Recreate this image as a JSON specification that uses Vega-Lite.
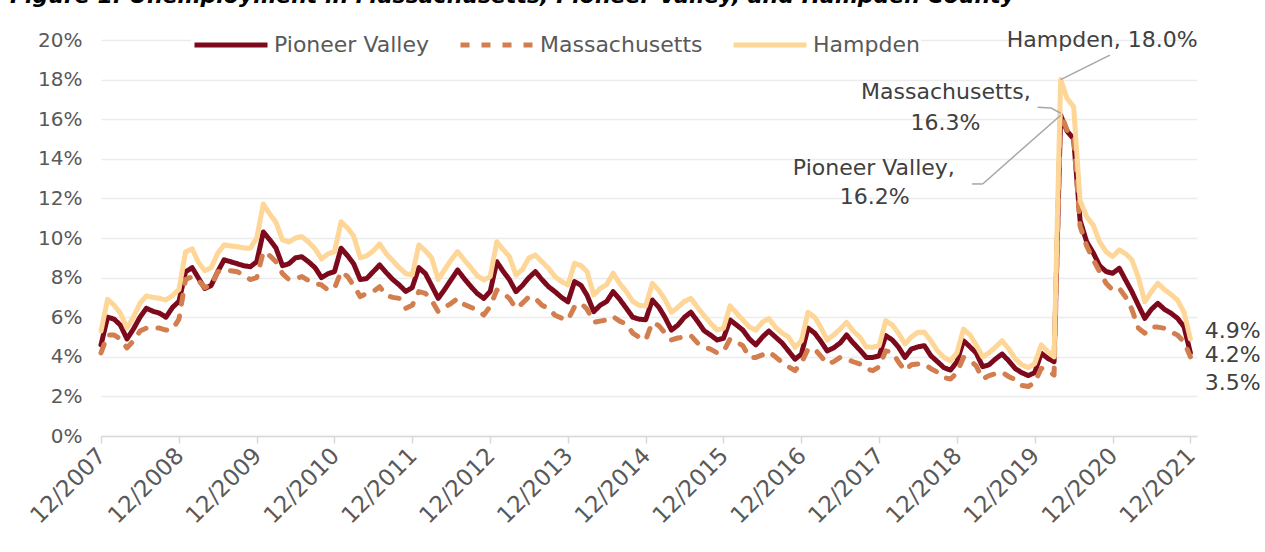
{
"$schema":"https://vega.github.io/schema/vega-lite/v6.json",
"width":1096,"height":396,
"autosize":{"type":"none"},
"padding":{"left":101,"top":40,"right":68,"bottom":116},
"background":"white",
"title":{"text":"Figure 1: Unemployment in Massachusetts, Pioneer Valley, and Hampden County","font":"DejaVu Sans","fontSize":22,"fontWeight":"bold","fontStyle":"italic","color":"#000000","anchor":"start","frame":"group","dx":-91,"baseline":"alphabetic","offset":-20},
"config":{"view":{"stroke":null},"font":"DejaVu Sans"},
"layer":[
{"data":{"values":[
{"d":"2007-12-01","Pioneer Valley":4.6,"Massachusetts":4.2,"Hampden":5.3},
{"d":"2008-01-01","Pioneer Valley":6.0,"Massachusetts":5.1,"Hampden":6.9},
{"d":"2008-02-01","Pioneer Valley":5.9,"Massachusetts":5.1,"Hampden":6.6},
{"d":"2008-03-01","Pioneer Valley":5.6,"Massachusetts":4.9,"Hampden":6.2},
{"d":"2008-04-01","Pioneer Valley":4.9,"Massachusetts":4.45,"Hampden":5.45},
{"d":"2008-05-01","Pioneer Valley":5.4,"Massachusetts":4.8,"Hampden":6.0},
{"d":"2008-06-01","Pioneer Valley":6.0,"Massachusetts":5.3,"Hampden":6.7},
{"d":"2008-07-01","Pioneer Valley":6.45,"Massachusetts":5.45,"Hampden":7.07},
{"d":"2008-08-01","Pioneer Valley":6.3,"Massachusetts":5.45,"Hampden":7.0},
{"d":"2008-09-01","Pioneer Valley":6.2,"Massachusetts":5.45,"Hampden":6.95},
{"d":"2008-10-01","Pioneer Valley":6.0,"Massachusetts":5.35,"Hampden":6.87},
{"d":"2008-11-01","Pioneer Valley":6.5,"Massachusetts":5.4,"Hampden":7.1},
{"d":"2008-12-01","Pioneer Valley":6.8,"Massachusetts":5.9,"Hampden":7.4},
{"d":"2009-01-01","Pioneer Valley":8.3,"Massachusetts":7.9,"Hampden":9.3},
{"d":"2009-02-01","Pioneer Valley":8.5,"Massachusetts":8.05,"Hampden":9.45},
{"d":"2009-03-01","Pioneer Valley":8.0,"Massachusetts":7.88,"Hampden":8.8},
{"d":"2009-04-01","Pioneer Valley":7.45,"Massachusetts":7.5,"Hampden":8.35},
{"d":"2009-05-01","Pioneer Valley":7.6,"Massachusetts":7.6,"Hampden":8.5},
{"d":"2009-06-01","Pioneer Valley":8.3,"Massachusetts":8.3,"Hampden":9.23},
{"d":"2009-07-01","Pioneer Valley":8.9,"Massachusetts":8.38,"Hampden":9.65},
{"d":"2009-08-01","Pioneer Valley":8.8,"Massachusetts":8.35,"Hampden":9.6},
{"d":"2009-09-01","Pioneer Valley":8.7,"Massachusetts":8.3,"Hampden":9.56},
{"d":"2009-10-01","Pioneer Valley":8.6,"Massachusetts":8.1,"Hampden":9.5},
{"d":"2009-11-01","Pioneer Valley":8.55,"Massachusetts":7.9,"Hampden":9.48},
{"d":"2009-12-01","Pioneer Valley":8.8,"Massachusetts":8.0,"Hampden":10.0},
{"d":"2010-01-01","Pioneer Valley":10.3,"Massachusetts":9.31,"Hampden":11.72},
{"d":"2010-02-01","Pioneer Valley":9.9,"Massachusetts":9.1,"Hampden":11.2},
{"d":"2010-03-01","Pioneer Valley":9.5,"Massachusetts":8.8,"Hampden":10.8},
{"d":"2010-04-01","Pioneer Valley":8.6,"Massachusetts":8.2,"Hampden":9.9},
{"d":"2010-05-01","Pioneer Valley":8.7,"Massachusetts":7.9,"Hampden":9.8},
{"d":"2010-06-01","Pioneer Valley":9.0,"Massachusetts":7.95,"Hampden":10.0},
{"d":"2010-07-01","Pioneer Valley":9.05,"Massachusetts":8.05,"Hampden":10.07},
{"d":"2010-08-01","Pioneer Valley":8.8,"Massachusetts":7.85,"Hampden":9.8},
{"d":"2010-09-01","Pioneer Valley":8.5,"Massachusetts":7.7,"Hampden":9.45},
{"d":"2010-10-01","Pioneer Valley":8.0,"Massachusetts":7.63,"Hampden":8.95},
{"d":"2010-11-01","Pioneer Valley":8.2,"Massachusetts":7.37,"Hampden":9.2},
{"d":"2010-12-01","Pioneer Valley":8.3,"Massachusetts":7.46,"Hampden":9.31},
{"d":"2011-01-01","Pioneer Valley":9.48,"Massachusetts":8.3,"Hampden":10.82},
{"d":"2011-02-01","Pioneer Valley":9.1,"Massachusetts":8.05,"Hampden":10.5},
{"d":"2011-03-01","Pioneer Valley":8.7,"Massachusetts":7.6,"Hampden":10.1},
{"d":"2011-04-01","Pioneer Valley":7.9,"Massachusetts":7.04,"Hampden":9.0},
{"d":"2011-05-01","Pioneer Valley":7.95,"Massachusetts":7.2,"Hampden":9.1},
{"d":"2011-06-01","Pioneer Valley":8.3,"Massachusetts":7.3,"Hampden":9.35},
{"d":"2011-07-01","Pioneer Valley":8.64,"Massachusetts":7.54,"Hampden":9.7},
{"d":"2011-08-01","Pioneer Valley":8.25,"Massachusetts":7.1,"Hampden":9.2},
{"d":"2011-09-01","Pioneer Valley":7.9,"Massachusetts":7.0,"Hampden":8.85},
{"d":"2011-10-01","Pioneer Valley":7.63,"Massachusetts":6.95,"Hampden":8.5},
{"d":"2011-11-01","Pioneer Valley":7.3,"Massachusetts":6.45,"Hampden":8.2},
{"d":"2011-12-01","Pioneer Valley":7.5,"Massachusetts":6.6,"Hampden":8.13},
{"d":"2012-01-01","Pioneer Valley":8.5,"Massachusetts":7.29,"Hampden":9.65},
{"d":"2012-02-01","Pioneer Valley":8.2,"Massachusetts":7.2,"Hampden":9.35},
{"d":"2012-03-01","Pioneer Valley":7.6,"Massachusetts":6.85,"Hampden":9.0},
{"d":"2012-04-01","Pioneer Valley":6.95,"Massachusetts":6.28,"Hampden":7.9},
{"d":"2012-05-01","Pioneer Valley":7.4,"Massachusetts":6.5,"Hampden":8.4},
{"d":"2012-06-01","Pioneer Valley":7.9,"Massachusetts":6.7,"Hampden":8.9},
{"d":"2012-07-01","Pioneer Valley":8.38,"Massachusetts":6.95,"Hampden":9.31},
{"d":"2012-08-01","Pioneer Valley":7.95,"Massachusetts":6.65,"Hampden":8.9},
{"d":"2012-09-01","Pioneer Valley":7.55,"Massachusetts":6.5,"Hampden":8.5},
{"d":"2012-10-01","Pioneer Valley":7.2,"Massachusetts":6.36,"Hampden":8.1},
{"d":"2012-11-01","Pioneer Valley":6.95,"Massachusetts":6.11,"Hampden":7.88},
{"d":"2012-12-01","Pioneer Valley":7.3,"Massachusetts":6.55,"Hampden":8.05},
{"d":"2013-01-01","Pioneer Valley":8.8,"Massachusetts":7.37,"Hampden":9.81},
{"d":"2013-02-01","Pioneer Valley":8.3,"Massachusetts":7.2,"Hampden":9.4},
{"d":"2013-03-01","Pioneer Valley":7.9,"Massachusetts":6.95,"Hampden":9.06},
{"d":"2013-04-01","Pioneer Valley":7.29,"Massachusetts":6.45,"Hampden":8.13},
{"d":"2013-05-01","Pioneer Valley":7.6,"Massachusetts":6.7,"Hampden":8.4},
{"d":"2013-06-01","Pioneer Valley":8.0,"Massachusetts":7.04,"Hampden":9.0},
{"d":"2013-07-01","Pioneer Valley":8.3,"Massachusetts":6.95,"Hampden":9.14},
{"d":"2013-08-01","Pioneer Valley":7.9,"Massachusetts":6.6,"Hampden":8.8},
{"d":"2013-09-01","Pioneer Valley":7.54,"Massachusetts":6.45,"Hampden":8.47},
{"d":"2013-10-01","Pioneer Valley":7.29,"Massachusetts":6.1,"Hampden":8.05},
{"d":"2013-11-01","Pioneer Valley":7.0,"Massachusetts":5.95,"Hampden":7.8},
{"d":"2013-12-01","Pioneer Valley":6.78,"Massachusetts":5.86,"Hampden":7.63},
{"d":"2014-01-01","Pioneer Valley":7.8,"Massachusetts":6.53,"Hampden":8.72},
{"d":"2014-02-01","Pioneer Valley":7.6,"Massachusetts":6.7,"Hampden":8.6},
{"d":"2014-03-01","Pioneer Valley":7.1,"Massachusetts":6.4,"Hampden":8.3},
{"d":"2014-04-01","Pioneer Valley":6.28,"Massachusetts":5.74,"Hampden":7.12},
{"d":"2014-05-01","Pioneer Valley":6.6,"Massachusetts":5.8,"Hampden":7.45},
{"d":"2014-06-01","Pioneer Valley":6.8,"Massachusetts":5.86,"Hampden":7.65},
{"d":"2014-07-01","Pioneer Valley":7.29,"Massachusetts":6.03,"Hampden":8.22},
{"d":"2014-08-01","Pioneer Valley":6.9,"Massachusetts":5.8,"Hampden":7.7},
{"d":"2014-09-01","Pioneer Valley":6.45,"Massachusetts":5.66,"Hampden":7.29},
{"d":"2014-10-01","Pioneer Valley":6.0,"Massachusetts":5.2,"Hampden":6.8},
{"d":"2014-11-01","Pioneer Valley":5.9,"Massachusetts":4.99,"Hampden":6.6},
{"d":"2014-12-01","Pioneer Valley":5.87,"Massachusetts":4.85,"Hampden":6.57},
{"d":"2015-01-01","Pioneer Valley":6.87,"Massachusetts":5.74,"Hampden":7.71},
{"d":"2015-02-01","Pioneer Valley":6.5,"Massachusetts":5.57,"Hampden":7.35},
{"d":"2015-03-01","Pioneer Valley":6.0,"Massachusetts":5.2,"Hampden":6.9},
{"d":"2015-04-01","Pioneer Valley":5.35,"Massachusetts":4.85,"Hampden":6.25},
{"d":"2015-05-01","Pioneer Valley":5.6,"Massachusetts":4.95,"Hampden":6.5},
{"d":"2015-06-01","Pioneer Valley":6.0,"Massachusetts":5.0,"Hampden":6.8},
{"d":"2015-07-01","Pioneer Valley":6.25,"Massachusetts":5.07,"Hampden":6.95},
{"d":"2015-08-01","Pioneer Valley":5.8,"Massachusetts":4.7,"Hampden":6.5},
{"d":"2015-09-01","Pioneer Valley":5.32,"Massachusetts":4.5,"Hampden":6.08},
{"d":"2015-10-01","Pioneer Valley":5.1,"Massachusetts":4.39,"Hampden":5.7},
{"d":"2015-11-01","Pioneer Valley":4.85,"Massachusetts":4.2,"Hampden":5.35},
{"d":"2015-12-01","Pioneer Valley":4.93,"Massachusetts":4.25,"Hampden":5.44},
{"d":"2016-01-01","Pioneer Valley":5.86,"Massachusetts":4.9,"Hampden":6.57},
{"d":"2016-02-01","Pioneer Valley":5.6,"Massachusetts":4.75,"Hampden":6.2},
{"d":"2016-03-01","Pioneer Valley":5.35,"Massachusetts":4.56,"Hampden":5.86},
{"d":"2016-04-01","Pioneer Valley":4.9,"Massachusetts":3.97,"Hampden":5.5},
{"d":"2016-05-01","Pioneer Valley":4.6,"Massachusetts":3.97,"Hampden":5.35},
{"d":"2016-06-01","Pioneer Valley":5.0,"Massachusetts":4.1,"Hampden":5.75},
{"d":"2016-07-01","Pioneer Valley":5.3,"Massachusetts":4.25,"Hampden":5.93},
{"d":"2016-08-01","Pioneer Valley":5.0,"Massachusetts":4.0,"Hampden":5.5},
{"d":"2016-09-01","Pioneer Valley":4.7,"Massachusetts":3.72,"Hampden":5.2},
{"d":"2016-10-01","Pioneer Valley":4.3,"Massachusetts":3.5,"Hampden":5.0},
{"d":"2016-11-01","Pioneer Valley":3.88,"Massachusetts":3.3,"Hampden":4.48},
{"d":"2016-12-01","Pioneer Valley":4.14,"Massachusetts":3.7,"Hampden":4.81},
{"d":"2017-01-01","Pioneer Valley":5.45,"Massachusetts":4.39,"Hampden":6.25},
{"d":"2017-02-01","Pioneer Valley":5.2,"Massachusetts":4.39,"Hampden":6.0},
{"d":"2017-03-01","Pioneer Valley":4.8,"Massachusetts":4.05,"Hampden":5.5},
{"d":"2017-04-01","Pioneer Valley":4.3,"Massachusetts":3.64,"Hampden":4.85},
{"d":"2017-05-01","Pioneer Valley":4.45,"Massachusetts":3.75,"Hampden":5.1},
{"d":"2017-06-01","Pioneer Valley":4.7,"Massachusetts":3.97,"Hampden":5.4},
{"d":"2017-07-01","Pioneer Valley":5.1,"Massachusetts":3.88,"Hampden":5.74},
{"d":"2017-08-01","Pioneer Valley":4.7,"Massachusetts":3.75,"Hampden":5.3},
{"d":"2017-09-01","Pioneer Valley":4.35,"Massachusetts":3.64,"Hampden":5.0},
{"d":"2017-10-01","Pioneer Valley":3.97,"Massachusetts":3.4,"Hampden":4.5},
{"d":"2017-11-01","Pioneer Valley":3.97,"Massachusetts":3.3,"Hampden":4.48},
{"d":"2017-12-01","Pioneer Valley":4.05,"Massachusetts":3.5,"Hampden":4.56},
{"d":"2018-01-01","Pioneer Valley":5.07,"Massachusetts":4.3,"Hampden":5.82},
{"d":"2018-02-01","Pioneer Valley":4.85,"Massachusetts":4.23,"Hampden":5.6},
{"d":"2018-03-01","Pioneer Valley":4.5,"Massachusetts":3.75,"Hampden":5.2},
{"d":"2018-04-01","Pioneer Valley":3.97,"Massachusetts":3.3,"Hampden":4.65},
{"d":"2018-05-01","Pioneer Valley":4.39,"Massachusetts":3.6,"Hampden":5.0},
{"d":"2018-06-01","Pioneer Valley":4.5,"Massachusetts":3.64,"Hampden":5.24},
{"d":"2018-07-01","Pioneer Valley":4.56,"Massachusetts":3.64,"Hampden":5.24},
{"d":"2018-08-01","Pioneer Valley":4.05,"Massachusetts":3.4,"Hampden":4.8},
{"d":"2018-09-01","Pioneer Valley":3.75,"Massachusetts":3.22,"Hampden":4.3},
{"d":"2018-10-01","Pioneer Valley":3.45,"Massachusetts":2.95,"Hampden":3.97},
{"d":"2018-11-01","Pioneer Valley":3.33,"Massachusetts":2.88,"Hampden":3.8},
{"d":"2018-12-01","Pioneer Valley":3.75,"Massachusetts":3.2,"Hampden":4.2},
{"d":"2019-01-01","Pioneer Valley":4.81,"Massachusetts":3.97,"Hampden":5.4},
{"d":"2019-02-01","Pioneer Valley":4.5,"Massachusetts":3.8,"Hampden":5.1},
{"d":"2019-03-01","Pioneer Valley":4.2,"Massachusetts":3.55,"Hampden":4.6},
{"d":"2019-04-01","Pioneer Valley":3.5,"Massachusetts":2.88,"Hampden":4.0},
{"d":"2019-05-01","Pioneer Valley":3.6,"Massachusetts":3.05,"Hampden":4.2},
{"d":"2019-06-01","Pioneer Valley":3.9,"Massachusetts":3.15,"Hampden":4.5},
{"d":"2019-07-01","Pioneer Valley":4.14,"Massachusetts":3.22,"Hampden":4.81},
{"d":"2019-08-01","Pioneer Valley":3.8,"Massachusetts":3.0,"Hampden":4.4},
{"d":"2019-09-01","Pioneer Valley":3.4,"Massachusetts":2.85,"Hampden":3.9},
{"d":"2019-10-01","Pioneer Valley":3.2,"Massachusetts":2.55,"Hampden":3.6},
{"d":"2019-11-01","Pioneer Valley":3.05,"Massachusetts":2.5,"Hampden":3.45},
{"d":"2019-12-01","Pioneer Valley":3.2,"Massachusetts":2.7,"Hampden":3.65},
{"d":"2020-01-01","Pioneer Valley":4.18,"Massachusetts":3.42,"Hampden":4.6},
{"d":"2020-02-01","Pioneer Valley":3.92,"Massachusetts":3.3,"Hampden":4.26},
{"d":"2020-03-01","Pioneer Valley":3.75,"Massachusetts":3.08,"Hampden":4.0},
{"d":"2020-04-01","Pioneer Valley":16.2,"Massachusetts":16.3,"Hampden":18.0},
{"d":"2020-05-01","Pioneer Valley":15.4,"Massachusetts":15.45,"Hampden":17.05},
{"d":"2020-06-01","Pioneer Valley":15.0,"Massachusetts":15.1,"Hampden":16.63},
{"d":"2020-07-01","Pioneer Valley":10.9,"Massachusetts":10.6,"Hampden":11.9},
{"d":"2020-08-01","Pioneer Valley":9.81,"Massachusetts":9.6,"Hampden":11.07},
{"d":"2020-09-01","Pioneer Valley":9.25,"Massachusetts":8.9,"Hampden":10.65},
{"d":"2020-10-01","Pioneer Valley":8.6,"Massachusetts":8.3,"Hampden":9.8},
{"d":"2020-11-01","Pioneer Valley":8.3,"Massachusetts":7.7,"Hampden":9.3},
{"d":"2020-12-01","Pioneer Valley":8.22,"Massachusetts":7.37,"Hampden":9.06},
{"d":"2021-01-01","Pioneer Valley":8.47,"Massachusetts":7.46,"Hampden":9.4},
{"d":"2021-02-01","Pioneer Valley":7.85,"Massachusetts":7.0,"Hampden":9.2},
{"d":"2021-03-01","Pioneer Valley":7.3,"Massachusetts":6.4,"Hampden":8.9},
{"d":"2021-04-01","Pioneer Valley":6.6,"Massachusetts":5.45,"Hampden":8.0},
{"d":"2021-05-01","Pioneer Valley":5.94,"Massachusetts":5.19,"Hampden":6.78},
{"d":"2021-06-01","Pioneer Valley":6.4,"Massachusetts":5.5,"Hampden":7.29},
{"d":"2021-07-01","Pioneer Valley":6.7,"Massachusetts":5.5,"Hampden":7.71},
{"d":"2021-08-01","Pioneer Valley":6.4,"Massachusetts":5.44,"Hampden":7.4},
{"d":"2021-09-01","Pioneer Valley":6.2,"Massachusetts":5.25,"Hampden":7.15},
{"d":"2021-10-01","Pioneer Valley":5.95,"Massachusetts":5.1,"Hampden":6.87},
{"d":"2021-11-01","Pioneer Valley":5.52,"Massachusetts":4.75,"Hampden":6.25},
{"d":"2021-12-01","Pioneer Valley":4.2,"Massachusetts":4.0,"Hampden":4.9}
]},
"transform":[{"fold":["Pioneer Valley","Massachusetts","Hampden"],"as":["series","value"]}],
"mark":{"type":"line","strokeWidth":5,"strokeCap":"round","strokeJoin":"round"},
"encoding":{
"x":{"field":"d","type":"temporal","scale":{"domain":["2007-12-01","2022-01-01"]},
"axis":{"values":[{"year":2007,"month":12,"date":1},{"year":2008,"month":12,"date":1},{"year":2009,"month":12,"date":1},{"year":2010,"month":12,"date":1},{"year":2011,"month":12,"date":1},{"year":2012,"month":12,"date":1},{"year":2013,"month":12,"date":1},{"year":2014,"month":12,"date":1},{"year":2015,"month":12,"date":1},{"year":2016,"month":12,"date":1},{"year":2017,"month":12,"date":1},{"year":2018,"month":12,"date":1},{"year":2019,"month":12,"date":1},{"year":2020,"month":12,"date":1},{"year":2021,"month":12,"date":1}],
"tickCount":30,"format":"%m/%Y","labelAngle":-45,"grid":false,"title":null,"domainColor":"#d9d9d9","domainWidth":1.5,"tickColor":"#d9d9d9","tickWidth":1.5,"tickSize":7,"labelFontSize":23,"labelColor":"#595959","labelPadding":1,"labelOffset":-7,"labelOverlap":false,"labelFlush":false,"labelBound":false}},
"y":{"field":"value","type":"quantitative","scale":{"domain":[0,20]},
"axis":{"values":[0,2,4,6,8,10,12,14,16,18,20],"tickCount":30,"labelExpr":"datum.value + '%'","title":null,"domain":false,"ticks":false,"gridColor":"#ececec","gridWidth":1.5,"labelFontSize":20,"labelColor":"#595959","labelPadding":19,"labelOverlap":false}},
"color":{"field":"series","type":"nominal","scale":{"domain":["Pioneer Valley","Massachusetts","Hampden"],"range":["#7d0a1c","#d27e4f","#fed697"]},
"legend":{"title":null,"orient":"none","legendX":90,"legendY":-35,"direction":"horizontal","symbolType":"stroke","symbolSize":5329,"symbolStrokeWidth":5,"labelFontSize":22,"labelLimit":400,"labelColor":"#595959","columnPadding":20,"labelOffset":4,"fillColor":"white","padding":1}},
"strokeDash":{"field":"series","type":"nominal","scale":{"domain":["Pioneer Valley","Massachusetts","Hampden"],"range":[[1,0],[9,12],[1,0]]},"legend":{"title":null,"orient":"none","legendX":90,"legendY":-35,"direction":"horizontal","symbolType":"stroke","symbolSize":5329,"symbolStrokeWidth":5,"labelFontSize":22,"labelLimit":400,"labelColor":"#595959","columnPadding":20,"labelOffset":4,"fillColor":"white","padding":1}}
}},
{"data":{"values":[
{"x":"2020-04-01","y":18.0,"x2":"2020-11-18","y2":19.24},
{"x":"2020-04-01","y":16.3,"x2":"2020-02-15","y2":16.57},
{"x":"2020-02-15","y":16.57,"x2":"2019-12-15","y2":16.6},
{"x":"2020-04-01","y":16.2,"x2":"2019-04-01","y2":12.73},
{"x":"2019-04-01","y":12.73,"x2":"2019-02-10","y2":12.73}
]},
"mark":{"type":"rule","color":"#a6a6a6","strokeWidth":1.5},
"encoding":{"x":{"field":"x","type":"temporal","scale":{"domain":["2007-12-01","2022-01-01"]}},"y":{"field":"y","type":"quantitative","scale":{"domain":[0,20]}},"x2":{"field":"x2"},"y2":{"field":"y2"}}},
{"data":{"values":[
{"x":"2020-10-13","y":20.0,"t":"Hampden, 18.0%"},
{"x":"2018-10-10","y":17.37,"t":"Massachusetts,"},
{"x":"2018-10-08","y":15.8,"t":"16.3%"},
{"x":"2017-11-06","y":13.54,"t":"Pioneer Valley,"},
{"x":"2017-11-10","y":12.07,"t":"16.2%"}
]},
"mark":{"type":"text","fontSize":22,"color":"#404040","align":"center","baseline":"middle","font":"DejaVu Sans"},
"encoding":{"x":{"field":"x","type":"temporal","scale":{"domain":["2007-12-01","2022-01-01"]}},"y":{"field":"y","type":"quantitative","scale":{"domain":[0,20]}},"text":{"field":"t"}}},
{"data":{"values":[
{"x":"2022-02-06","y":5.3,"t":"4.9%"},
{"x":"2022-02-06","y":4.09,"t":"4.2%"},
{"x":"2022-02-06","y":2.68,"t":"3.5%"}
]},
"mark":{"type":"text","fontSize":22,"color":"#404040","align":"left","baseline":"middle","font":"DejaVu Sans"},
"encoding":{"x":{"field":"x","type":"temporal","scale":{"domain":["2007-12-01","2022-01-01"]}},"y":{"field":"y","type":"quantitative","scale":{"domain":[0,20]}},"text":{"field":"t"}}}
]
}
